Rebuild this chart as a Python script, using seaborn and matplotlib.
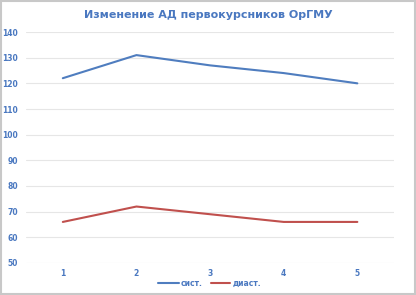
import pandas as pd
import seaborn as sns
import matplotlib.pyplot as plt
from matplotlib.patches import Rectangle

points = [1, 2, 3, 4, 5]
sist = [122, 131, 127, 124, 120]
diast = [66, 72, 69, 66, 66]
yticks = [50, 60, 70, 80, 90, 100, 110, 120, 130, 140]

df = pd.DataFrame({"x": points * 2,
                   "y": sist + diast,
                   "series": ["сист."] * 5 + ["диаст."] * 5})

sns.set_style("white")
plt.rcParams['font.family'] = ['DejaVu Sans']

blue_txt = "#4a78c0"
fig = plt.figure(figsize=(4.16, 2.95), dpi=100)
ax = fig.add_axes([0.0625, 0.1085, 0.885, 0.783])

sns.lineplot(data=df, x="x", y="y", hue="series",
             palette={"сист.": "#4f7dbf", "диаст.": "#c0504d"},
             linewidth=1.5, ax=ax, legend=False)

ax.set_xlim(0.5, 5.5)
ax.set_ylim(50, 140)
ax.set_yticks(yticks)
ax.set_xticks(points)
ax.grid(axis="y", color="#e6e6e6", linewidth=0.8)
for s in ax.spines.values():
    s.set_visible(False)
ax.tick_params(length=0, labelsize=5.5, labelcolor=blue_txt)
ax.tick_params(axis="y", pad=6)
ax.tick_params(axis="x", pad=4)
for lab in ax.get_xticklabels() + ax.get_yticklabels():
    lab.set_fontweight("bold")
ax.set_xlabel("")
ax.set_ylabel("")

fig.text(0.5, 0.948, "Изменение АД первокурсников ОрГМУ", ha="center", va="center",
         fontsize=8, fontweight="bold", color=blue_txt)

# legend
fig.lines.append(plt.Line2D([0.38, 0.43], [0.04, 0.04], color="#4f7dbf", lw=1.5, transform=fig.transFigure))
fig.text(0.435, 0.04, "сист.", fontsize=5.5, fontweight="bold", color=blue_txt, va="center")
fig.lines.append(plt.Line2D([0.507, 0.553], [0.04, 0.04], color="#c0504d", lw=1.5, transform=fig.transFigure))
fig.text(0.558, 0.04, "диаст.", fontsize=5.5, fontweight="bold", color=blue_txt, va="center")

fig.patches.append(Rectangle((0.002, 0.003), 0.996, 0.994, transform=fig.transFigure,
                             fill=False, edgecolor="#c8c8c8", lw=1.5))

fig.savefig("out.png", dpi=100)
